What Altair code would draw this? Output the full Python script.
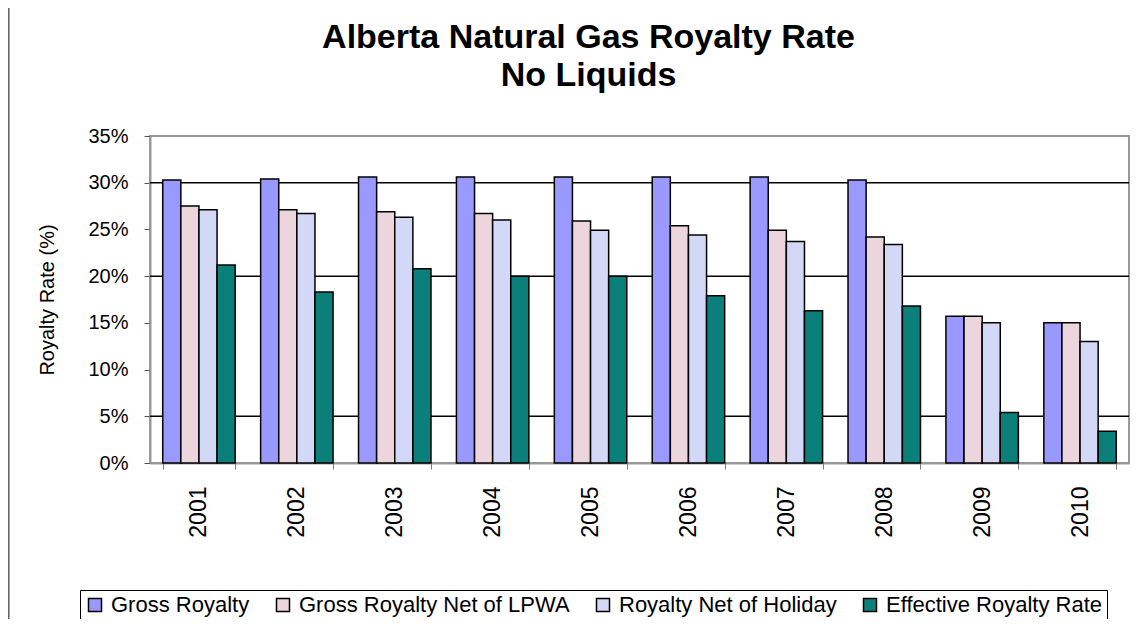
import altair as alt
import pandas as pd

years = ["2001", "2002", "2003", "2004", "2005", "2006", "2007", "2008", "2009", "2010"]
series = ["Gross Royalty", "Gross Royalty Net of LPWA", "Royalty Net of Holiday", "Effective Royalty Rate"]
gross = [30.3, 30.4, 30.6, 30.6, 30.6, 30.6, 30.6, 30.3, 15.7, 15.0]
lpwa = [27.5, 27.1, 26.9, 26.7, 25.9, 25.4, 24.9, 24.2, 15.7, 15.0]
holiday = [27.1, 26.7, 26.3, 26.0, 24.9, 24.4, 23.7, 23.4, 15.0, 13.0]
effective = [21.2, 18.3, 20.8, 20.0, 20.0, 17.9, 16.3, 16.8, 5.4, 3.4]
colors = ["#9999FF", "#EDD5DE", "#D3D8F6", "#0B7F7A"]
y_ticks = [0, 0.05, 0.10, 0.15, 0.20, 0.25, 0.30, 0.35]
grid_lines = [0.05, 0.20, 0.30]

rows = []
for s, vals in zip(series, [gross, lpwa, holiday, effective]):
    for yr, v in zip(years, vals):
        rows.append({"Year": yr, "Series": s, "Rate": v / 100.0})
df = pd.DataFrame(rows)
grid_df = pd.DataFrame({"g": grid_lines})

FONT = "Liberation Sans"

bars = alt.Chart(df).mark_bar(stroke="black", strokeWidth=1.5).encode(
    x=alt.X("Year:N", sort=years, title=None,
            scale=alt.Scale(paddingInner=0.26, paddingOuter=0.13),
            axis=alt.Axis(labelAngle=-90, labelFontSize=23, labelFont=FONT, labelColor="black",
                          tickBand="extent", tickSize=6, tickColor="#777", domainColor="#999",
                          domainWidth=2, labelPadding=17, labelBaseline="middle")),
    xOffset=alt.XOffset("Series:N", sort=series,
                        scale=alt.Scale(paddingInner=0, paddingOuter=0)),
    y=alt.Y("Rate:Q", title="Royalty Rate (%)",
            scale=alt.Scale(domain=[0, 0.35], nice=False),
            axis=alt.Axis(values=y_ticks, format=".0%", grid=False, labelFontSize=20,
                          labelFont=FONT, labelColor="black", tickSize=6, tickColor="#555",
                          domainColor="#999", domainWidth=2, labelPadding=16,
                          titleFont=FONT, titleFontSize=20, titleFontWeight="normal",
                          titleColor="black", titlePadding=30)),
    color=alt.Color("Series:N", sort=series,
                    scale=alt.Scale(domain=series, range=colors),
                    legend=alt.Legend(title=None, orient="none", direction="horizontal",
                                      legendX=-70, legendY=454, symbolType="square",
                                      symbolSize=169, symbolStrokeColor="black",
                                      symbolStrokeWidth=1.5, labelFontSize=22, labelFont=FONT,
                                      labelColor="black", labelOffset=5, columnPadding=22,
                                      padding=4, strokeColor="black", fillColor="white",
                                      columns=4, labelLimit=400)),
)

grid = alt.Chart(grid_df).mark_rule(color="black", strokeWidth=1.5).encode(y="g:Q")

border = alt.Chart(grid_df).mark_rule(color="#666", strokeWidth=1.5).encode(
    x=alt.value(-141.5), y=alt.value(-128), y2=alt.value(483))

chart = alt.layer(grid, bars, border).properties(
    width=979,
    height=327,
    autosize=alt.AutoSizeParams(type="none"),
    padding={"left": 142, "top": 128, "right": 11, "bottom": 156},
    title=alt.Title(["Alberta Natural Gas Royalty Rate", "No Liquids"], fontSize=34,
                    font=FONT, fontWeight="bold", color="black", anchor="middle",
                    baseline="alphabetic", lineHeight=38, offset=-113, dx=-51),
).configure_view(stroke="#999", strokeWidth=2)

chart.save("out.html", embed_options={"renderer": "svg", "actions": False})
